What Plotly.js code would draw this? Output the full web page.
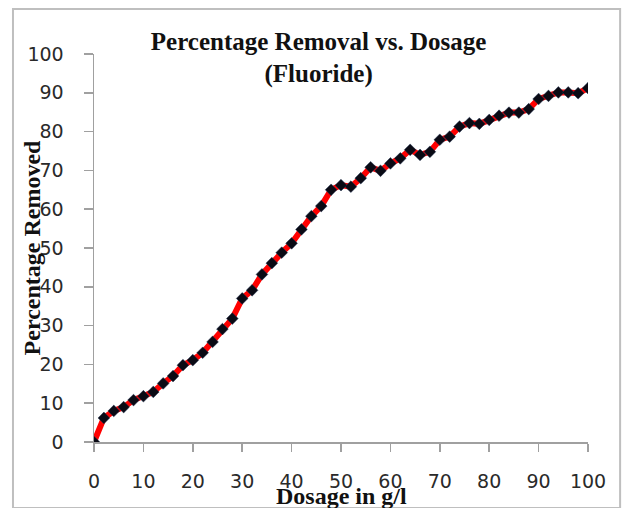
<!DOCTYPE html>
<html>
<head>
<meta charset="utf-8">
<script src="https://cdn.plot.ly/plotly-3.0.1.min.js"></script>
<style>html,body{margin:0;padding:0;background:#fff;}#chart{width:626px;height:508px;}</style>
</head>
<body>
<div id="chart"></div>
<script>
var dosage = [0,2,4,6,8,10,12,14,16,18,20,22,24,26,28,30,32,34,36,38,40,42,44,46,48,50,52,54,56,58,60,62,64,66,68,70,72,74,76,78,80,82,84,86,88,90,92,94,96,98,100];
var removed = [0,6.2,8.0,9.0,10.8,11.8,12.9,15.1,17.0,19.8,21.1,23.0,25.8,29.1,31.8,37.0,39.1,43.2,46.1,48.8,51.2,54.8,58.2,60.8,65.0,66.2,65.8,68.0,70.8,69.9,71.8,73.1,75.3,74.0,74.8,77.9,78.7,81.3,82.2,82.0,83.0,84.1,84.9,84.9,85.8,88.4,89.2,90.1,90.1,89.9,91.2];
var tickVals = [0,10,20,30,40,50,60,70,80,90,100];
var tickText = ['0','10','20','30','40','50','60','70','80','90','100'];

var trace = {
  x: dosage, y: removed, type: 'scatter', mode: 'lines+markers',
  line: {color: '#ff0000', width: 6},
  marker: {symbol: 'diamond', size: 9, color: '#0a0a14', line: {color: '#1f3050', width: 0.5}},
  hoverinfo: 'none'
};

var serif = 'Liberation Serif, Times New Roman, serif';
var tickFont = {family: 'DejaVu Sans, sans-serif', size: 19, color: '#2a2a2a'};

var layout = {
  width: 626, height: 508,
  margin: {l: 94, r: 38, t: 54, b: 66},
  paper_bgcolor: '#ffffff', plot_bgcolor: '#ffffff',
  showlegend: false,
  title: {
    text: '<b>Percentage Removal vs. Dosage</b><br><b>(Fluoride)</b>',
    font: {family: serif, size: 25, color: '#111'},
    x: 0.509, xanchor: 'center', xref: 'container',
    y: 0.902, yanchor: 'middle', yref: 'container'
  },
  xaxis: {
    range: [0, 100], tickvals: tickVals, ticktext: tickText,
    showgrid: false, zeroline: false, showline: true, linecolor: '#a0a0a0', linewidth: 1.5,
    ticks: 'outside', ticklen: 8, tickcolor: '#a0a0a0', tickwidth: 1.5,
    tickfont: tickFont, ticklabelstandoff: 14, fixedrange: true
  },
  yaxis: {
    range: [0, 100], tickvals: tickVals, ticktext: tickText,
    showgrid: false, zeroline: false, showline: true, linecolor: '#a0a0a0', linewidth: 1.5,
    ticks: 'outside', ticklen: 9, tickcolor: '#a0a0a0', tickwidth: 1.5,
    tickfont: tickFont, ticklabelstandoff: 16, fixedrange: true
  },
  annotations: [
    {text: '<b>Dosage in g/l</b>', xref: 'paper', yref: 'paper', x: 0.50, y: -0.139,
     xanchor: 'center', yanchor: 'middle', showarrow: false, font: {family: serif, size: 24, color: '#111'}},
    {text: '<b>Percentage Removed</b>', xref: 'paper', yref: 'paper', x: -0.1255, y: 0.499,
     xanchor: 'center', yanchor: 'middle', textangle: -90, showarrow: false, font: {family: serif, size: 24, color: '#111'}}
  ],
  shapes: [
    {type: 'rect', xref: 'paper', yref: 'paper', x0: -0.164, x1: 1.065, y0: -0.17, y1: 1.116,
     line: {color: '#bfbfbf', width: 2}, fillcolor: 'rgba(0,0,0,0)', layer: 'below'}
  ]
};

Plotly.newPlot('chart', [trace], layout, {displayModeBar: false, staticPlot: true});
</script>
</body>
</html>
